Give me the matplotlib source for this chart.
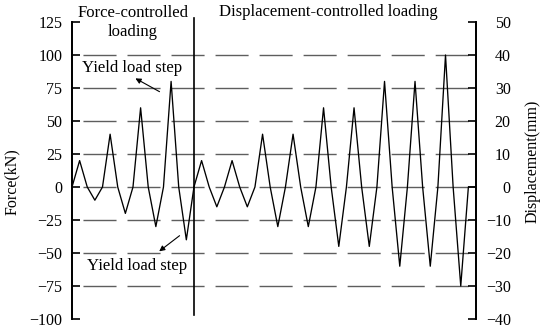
import numpy as np
import matplotlib
matplotlib.use("Agg")
from matplotlib import pyplot as plt

plt.rcParams['font.family'] = ['Liberation Serif', 'DejaVu Serif']
plt.rcParams['font.size'] = 11.5

# force-controlled phase (kN), one step per loading point
force_steps = np.arange(0, 17)
force_vals = [0, 20, 0, -10, 0, 40, 0, -20, 0, 60, 0, -30, 0, 80, 0, -40, 0]

# displacement-controlled phase (mm)
disp_steps = np.arange(16, 54)
disp_vals = [0, 8, 0, -6, 0, 8, 0, -6, 0, 16, 0, -12, 0, 16, 0, -12,
             0, 24, 0, -18, 0, 24, 0, -18, 0, 32, 0, -24, 0, 32, 0, -24,
             0, 40, 0, -30, 0, 0]

force_ticks = np.arange(-100, 126, 25)
disp_ticks = np.arange(-40, 51, 10)
grid_levels = np.arange(-75, 101, 25)
switch_step = 16

fig = plt.figure(figsize=(5.5, 3.32), dpi=100)
ax = fig.add_axes([72/550, 13/332, 404/550, 297/332])
ax2 = ax.twinx()

ax.set_xlim(0, 53)
ax.set_ylim(-100, 125)
ax2.set_ylim(-40, 50)

# dashed reference lines
ax.hlines(grid_levels, 0, 53, colors='#5e5e5e', linewidth=1.0,
          linestyles=[(23.8, (23.8, 7.9))])

ax.plot(force_steps, force_vals, color='black', lw=0.95)
ax2.plot(disp_steps, disp_vals, color='black', lw=0.95)

# phase divider
ax.plot([switch_step, switch_step], [-97, 128], color='black', lw=1.2, clip_on=False)

for a in (ax, ax2):
    a.spines['top'].set_visible(False)
    a.spines['bottom'].set_visible(False)
    a.spines['left'].set_linewidth(1.3)
    a.spines['right'].set_linewidth(1.3)
    a.set_xticks([])

ax.set_yticks(force_ticks)
ax.tick_params(axis='y', direction='in', length=5.8, width=1.2, pad=7)
ax2.set_yticks(disp_ticks)
ax2.tick_params(axis='y', direction='in', length=5.8, width=1.2, pad=25)
for lab in ax2.get_yticklabels():
    lab.set_horizontalalignment('right')

ax.set_ylabel('Force(kN)')
ax.yaxis.set_label_coords(-0.128, 0.461)
ax2.set_ylabel('Displacement(mm)', rotation=90)
ax2.yaxis.set_label_coords(1.12, 0.532)

ax.text(8.0, 124.5, 'Force-controlled\nloading', ha='center', va='center',
        linespacing=1.3, fontsize=12)
ax.text(33.6, 132.3, 'Displacement-controlled loading', ha='center', va='center',
        fontsize=12)

# yield annotations
ax.text(7.9, 90, 'Yield load step', ha='center', va='center', fontsize=12)
ax.annotate('', xy=(8.0, 83.3), xytext=(11.8, 71.2),
            arrowprops=dict(arrowstyle='-|>', lw=0.8, color='black', mutation_scale=8))
ax.text(8.5, -60, 'Yield load step', ha='center', va='center', fontsize=12)
ax.annotate('', xy=(11.15, -50), xytext=(14.4, -35.6),
            arrowprops=dict(arrowstyle='-|>', lw=0.8, color='black', mutation_scale=8))

fig.savefig('out.png', dpi=100)
